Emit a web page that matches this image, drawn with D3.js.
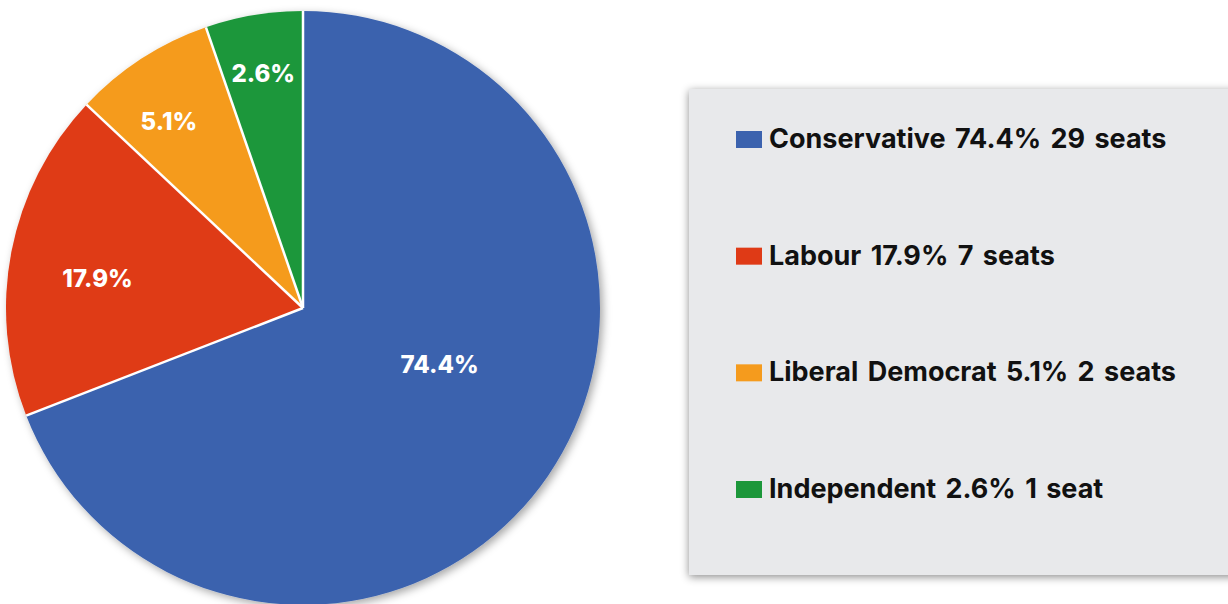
<!DOCTYPE html>
<html>
<head>
<meta charset="utf-8">
<script src="https://cdn.jsdelivr.net/npm/d3@7"></script>
<style>
  body { margin:0; background:#fff; }
  svg { display:block; }
  text { font-family: Inter, "Noto Sans", sans-serif; font-weight:700; }
</style>
</head>
<body>
<svg id="chart" width="1228" height="604"></svg>
<script>
// data
var parties = ["Conservative", "Labour", "Liberal Democrat", "Independent"];
// slice sizes as drawn in the picture (percent of the circle)
var sliceShare = [69.1, 17.9, 7.7, 5.3];
var pctLabels = ["74.4%", "17.9%", "5.1%", "2.6%"];
var seatLabels = ["29 seats", "7 seats", "2 seats", "1 seat"];
var colors = ["#3b62ae", "#df3a16", "#f59b1d", "#1c973a"];

// label placement tweaks (radius fraction, angle shift in degrees)
var labelR = [0.497, 0.699, 0.774, 0.80],
    labelShift = [-12.1, -2.75, -2.75, -0.1];

var W = 1228, H = 604,
    cx = 303, cy = 308, r = 297;

var svg = d3.select("#chart");
var defs = svg.append("defs");

var f = defs.append("filter").attr("id","pieShadow").attr("x","-10%").attr("y","-10%").attr("width","120%").attr("height","120%");
f.append("feDropShadow").attr("dx",3).attr("dy",3).attr("stdDeviation",4).attr("flood-color","#000").attr("flood-opacity",0.35);

var f2 = defs.append("filter").attr("id","boxShadow").attr("x","-10%").attr("y","-10%").attr("width","120%").attr("height","120%");
f2.append("feDropShadow").attr("dx",0).attr("dy",2).attr("stdDeviation",4).attr("flood-color","#000").attr("flood-opacity",0.45);

//pie
var pie = d3.pie().sort(null).value(function(d){return d;});
var arcs = pie(sliceShare);
var arc = d3.arc().innerRadius(0).outerRadius(r);

var g = svg.append("g").attr("transform","translate("+cx+","+cy+")");
g.append("g").attr("filter","url(#pieShadow)")
  .selectAll("path").data(arcs).enter().append("path")
  .attr("d", arc)
  .attr("fill", function(d,i){return colors[i];});

// white separators between slices
g.selectAll("line.sep").data(arcs).enter().append("line")
  .attr("class","sep")
  .attr("x1",0).attr("y1",0)
  .attr("x2", function(d){return Math.sin(d.startAngle)*r;})
  .attr("y2", function(d){return -Math.cos(d.startAngle)*r;})
  .attr("stroke","#fff")
  .attr("stroke-width",2.5);

g.selectAll("text.lbl").data(arcs).enter().append("text")
  .attr("class","lbl")
  .attr("x", function(d,i){
    var a = (d.startAngle + d.endAngle)/2 + labelShift[i]*Math.PI/180;
    return Math.sin(a) * r * labelR[i];
  })
  .attr("y", function(d,i){
    var a = (d.startAngle + d.endAngle)/2 + labelShift[i]*Math.PI/180;
    return -Math.cos(a) * r * labelR[i];
  })
  .attr("dy","0.36em")
  .attr("text-anchor","middle")
  .attr("fill","#fff")
  .style("font-size","24px")
  .style("font-weight","800")
  .text(function(d,i){return pctLabels[i];});

//legend
var box = {x:689, y:89, w:600, h:486};
svg.append("rect")
  .attr("x",box.x).attr("y",box.y).attr("width",box.w).attr("height",box.h)
  .attr("fill","#e8e9eb")
  .attr("filter","url(#boxShadow)");

var ly = d3.scalePoint().domain(parties).range([139, 489]);
var leg = svg.selectAll("g.leg").data(parties).enter().append("g")
  .attr("class","leg")
  .attr("transform", function(d){return "translate(736,"+ly(d)+")";});
leg.append("rect")
  .attr("x",0).attr("y",-8).attr("width",26).attr("height",17)
  .attr("fill", function(d,i){return colors[i];});
leg.append("text")
  .attr("x",33).attr("y",9)
  .attr("fill","#111")
  .style("font-size","27px")
  .style("word-spacing","3px")
  .text(function(d,i){return d + " " + pctLabels[i] + " " + seatLabels[i];});
</script>
</body>
</html>
